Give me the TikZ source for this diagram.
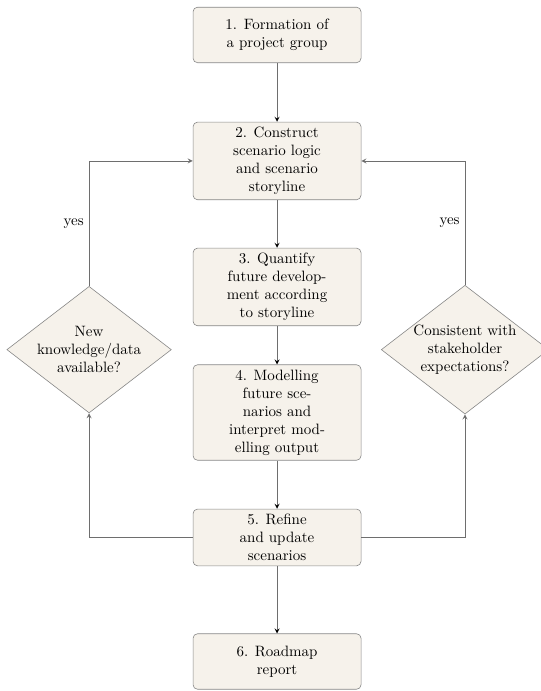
\documentclass[tikz,border=0pt]{standalone}
\usepackage{amsmath}
\usetikzlibrary{shapes.geometric,positioning}
\definecolor{boxfill}{RGB}{246,242,235}
\definecolor{boxline}{RGB}{135,135,135}
\definecolor{arrowline}{RGB}{110,110,110}
\tikzset{
  process/.style={draw=boxline,fill=boxfill,rounded corners=3pt,align=center,
    minimum width=112pt,minimum height=37pt,inner sep=3.33pt},
  decision/.style={diamond,draw=boxline,fill=boxfill,align=center,
    minimum width=108pt,minimum height=83pt,inner sep=0pt,aspect=1.3},
  flow/.style={->,draw=arrowline,line width=0.5pt}
}
\begin{document}
\begin{tikzpicture}[node distance=84pt,on grid,auto,>=stealth]
		\useasboundingbox (0,0) rectangle (360pt,-460.67pt);
		\node[process](b1) at (184.7pt,-23.3pt) {1. Formation of\\a project group};
		\node[process](b2)[below=of b1] {2. Construct\\scenario logic\\and scenario\\storyline};
		\node[process](b3)[below=of b2] {3. Quantify\\future develop-\\ment according\\to storyline};
		\node[process](b4)[below=83.7pt of b3] {4. Modelling\\future sce-\\narios and\\interpret mod-\\elling output};
		\node[process](b5)[below=83.3pt of b4] {5. Refine\\and update\\scenarios};
		\node[process](b6)[below=82.7pt of b5] {6. Roadmap\\report};
		\node[decision](dl)[below left=41.8pt and 125.3pt of b3] {New\\knowledge/data\\available?};
		\node[decision](dr)[below right=41.8pt and 125.3pt of b3] {Consistent with\\stakeholder\\expectations?};
		\path[flow]
		(b1) edge (b2)
		(b2) edge (b3)
		(b3) edge (b4)
		(b4) edge (b5)
		(b5) edge (b6);
		\draw[flow] (b5.west) -| (dl.south);
		\draw[flow] (b5.east) -| (dr.south);
		\draw[flow] (dl.north) |- node[pos=0.25,left] {yes} (b2.west);
		\draw[flow] (dr.north) |- node[pos=0.25,left] {yes} (b2.east);
\end{tikzpicture}
\end{document}
